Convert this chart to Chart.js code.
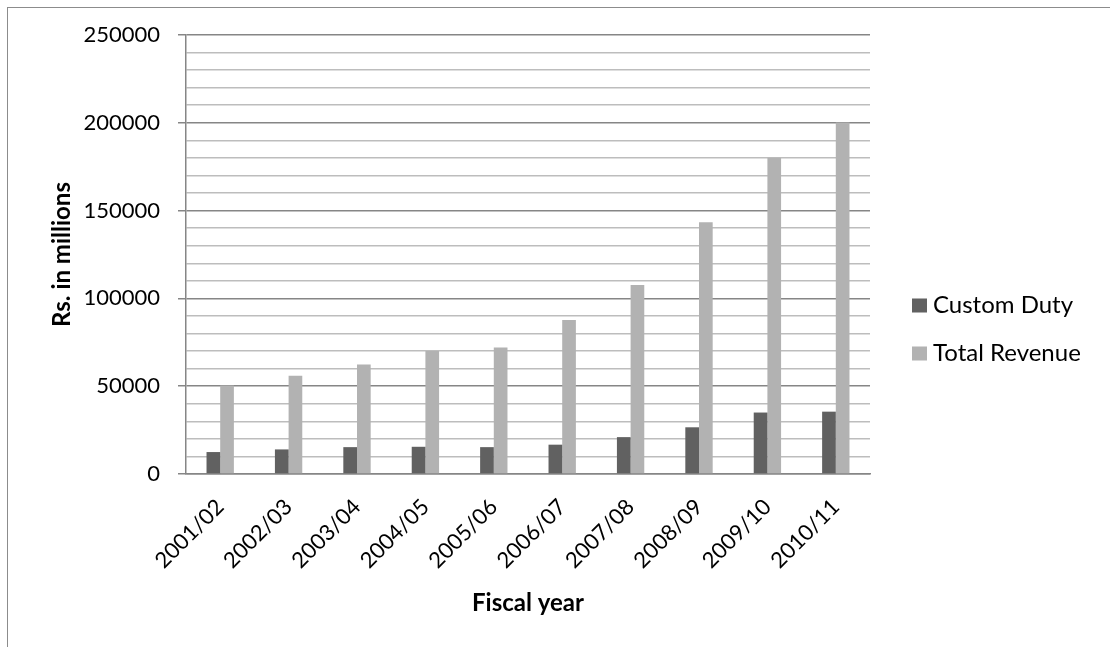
<!DOCTYPE html>
<html>
<head>
<meta charset="utf-8">
<script src="https://cdn.jsdelivr.net/npm/chart.js@4.4.1/dist/chart.umd.min.js"></script>
<style>
  html, body { margin: 0; padding: 0; background: #ffffff; }
  #wrap { position: relative; width: 1110px; height: 647px; overflow: hidden; }
  #frame { position: absolute; left: 7px; top: 7px; width: 1200px; height: 700px;
           border-left: 1px solid #8c8c8c; border-top: 1px solid #8c8c8c; pointer-events: none; }
  canvas { position: absolute; left: 0; top: 0; }
</style>
</head>
<body>
<div id="wrap">
  <canvas id="chart" width="1110" height="647"></canvas>
  <div id="frame"></div>
</div>
<script>
// Fiscal years and revenue figures (Rs. in millions)
const fiscalYears = ['2001/02', '2002/03', '2003/04', '2004/05', '2005/06',
                     '2006/07', '2007/08', '2008/09', '2009/10', '2010/11'];
const customDuty   = [12500, 14000, 15300, 15500, 15300, 16700, 21000, 26600, 35000, 35500];
const totalRevenue = [50400, 56000, 62300, 70000, 72100, 87700, 107700, 143300, 180100, 200100];
const seriesNames  = ['Custom Duty', 'Total Revenue'];
const yMin = 0, yMax = 250000, yStep = 10000, yLabelStep = 50000;

const FONT = 'Lato, "Open Sans", "DejaVu Sans", sans-serif';

// Legend drawn to the right of the plot area
const sideLegend = {
  id: 'sideLegend',
  afterDraw(chart) {
    const ctx = chart.ctx;
    const x = 912, firstBaseline = 312.5, gap = 48, box = 14;
    ctx.save();
    ctx.font = '24px ' + FONT;
    ctx.textBaseline = 'alphabetic';
    ctx.textAlign = 'left';
    chart.data.datasets.forEach((ds, i) => {
      const base = firstBaseline + i * gap;
      ctx.fillStyle = ds.backgroundColor;
      ctx.fillRect(x, base - box, box + 1, box);
      ctx.fillStyle = '#000000';
      ctx.fillText(ds.label, x + 21, base);
    });
    ctx.restore();
  }
};

new Chart(document.getElementById('chart'), {
  type: 'bar',
  data: {
    labels: fiscalYears,
    datasets: [
      { label: seriesNames[0], data: customDuty,   backgroundColor: '#616161' },
      { label: seriesNames[1], data: totalRevenue, backgroundColor: '#b2b2b2' }
    ]
  },
  options: {
    responsive: false,
    animation: false,
    layout: { padding: { left: 10, right: 240, top: 35, bottom: 10 } },
    datasets: { bar: { categoryPercentage: 0.4, barPercentage: 1.0 } },
    plugins: { legend: { display: false }, tooltip: { enabled: false } },
    scales: {
      x: {
        grid: { display: false },
        border: { display: true, color: '#868686', width: 1.5 },
        ticks: {
          color: '#000000',
          font: { family: FONT, size: 22 },
          minRotation: 45, maxRotation: 45,
          padding: 12,
          labelOffset: 0,
          autoSkip: false
        },
        title: {
          display: true, text: 'Fiscal year', color: '#000000',
          font: { family: FONT, size: 24, weight: 'bold' },
          padding: { top: 0, bottom: 19 }
        },
        afterFit(scale) { scale.height = 647 - 474 - 10; }
      },
      y: {
        min: yMin, max: yMax,
        grid: {
          color: c => (c.tick && c.tick.value % yLabelStep === 0) ? '#868686' : '#bdbdbd',
          lineWidth: 1.5,
          drawTicks: true,
          tickLength: 8,
          tickColor: c => (c.tick && c.tick.value % yLabelStep === 0) ? '#868686' : 'rgba(0,0,0,0)'
        },
        border: { display: true, color: '#868686', width: 1.5 },
        ticks: {
          stepSize: yStep,
          color: '#000000',
          font: { family: FONT, size: 22 },
          padding: 18,
          autoSkip: false,
          callback: v => (v % yLabelStep === 0) ? String(v) : ''
        },
        title: {
          display: true, text: 'Rs. in millions', color: '#000000',
          font: { family: FONT, size: 24, weight: 'bold' },
          padding: { top: 38, bottom: 0 }
        },
        afterFit(scale) { scale.width = 186 - 10; }
      }
    }
  },
  plugins: [sideLegend]
});
</script>
</body>
</html>
